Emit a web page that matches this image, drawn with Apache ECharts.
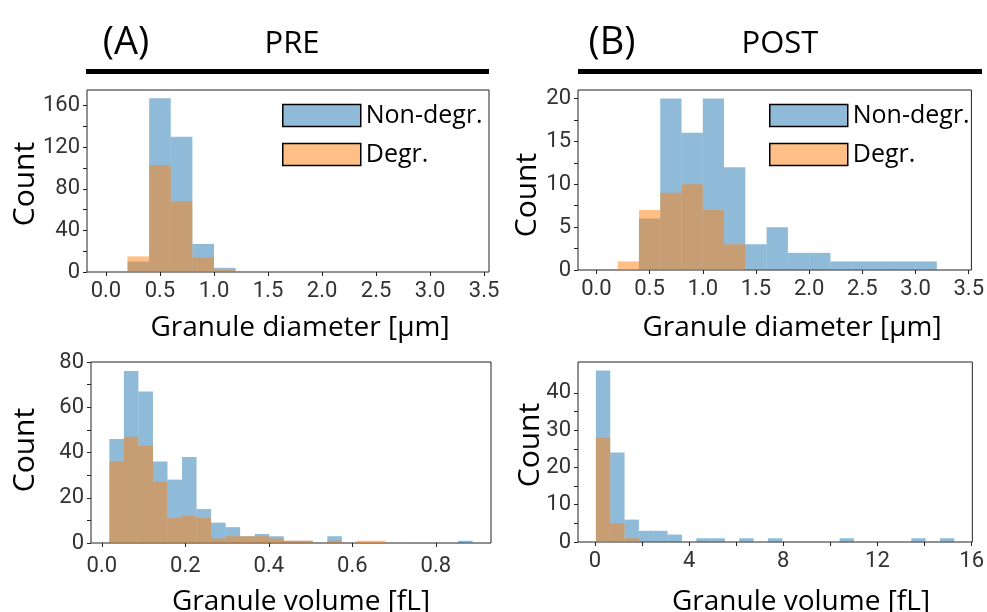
<!DOCTYPE html>
<html>
<head>
<meta charset="utf-8">
<script src="https://cdn.jsdelivr.net/npm/echarts@6/dist/echarts.min.js"></script>
<style>
  html, body { margin: 0; padding: 0; background: #fff; }
  #main { width: 987px; height: 612px; }
</style>
</head>
<body>
<div id="main"></div>
<script>
// histogram bin edges (diameter, um) - same bins pre and post
var diamEdges = [0.2, 0.4, 0.6, 0.8, 1.0, 1.2, 1.4, 1.6, 1.8, 2.0, 2.2, 2.4, 2.6, 2.8, 3.0, 3.2];
var preDiamNon = [10, 167, 130, 27, 4, 0, 0, 0, 0, 0, 0, 0, 0, 0, 0];
var preDiamDeg = [15, 103, 68, 14, 2, 0, 0, 0, 0, 0, 0, 0, 0, 0, 0];
var postDiamNon = [0, 6, 20, 16, 20, 12, 3, 5, 2, 2, 1, 1, 1, 1, 1];
var postDiamDeg = [1, 7, 9, 10, 7, 3, 0, 0, 0, 0, 0, 0, 0, 0, 0];

// volume histograms, 25 bins each (start, width in fL)
var preVolStart = 0.018, preVolWidth = 0.0348;
var preVolNon = [46, 76, 67, 36, 28, 38, 15, 9, 7, 3, 4, 3, 1, 1, 0, 3, 0, 0, 0, 0, 0, 0, 0, 0, 1];
var preVolDeg = [36, 47, 43, 27, 11, 12, 11, 2, 3, 3, 3, 2, 1, 1, 0, 1, 0, 1, 1, 0, 0, 0, 0, 0, 0];
var postVolStart = 0.04, postVolWidth = 0.609;
var postVolNon = [46, 24, 6, 3, 3, 2, 0, 1, 1, 0, 1, 0, 1, 0, 0, 0, 0, 1, 0, 0, 0, 0, 1, 0, 1];
var postVolDeg = [28, 5, 1, 0, 0, 0, 0, 0, 0, 0, 0, 0, 0, 0, 0, 0, 0, 0, 0, 0, 0, 0, 0, 0, 0];

// tick labels
var diamTicks = [0, 0.5, 1.0, 1.5, 2.0, 2.5, 3.0, 3.5];
var preVolTicks = [0, 0.2, 0.4, 0.6, 0.8];
var postVolTicks = [0, 4, 8, 12, 16];
var postVolMinor = [0, 2, 4, 6, 8, 10, 12, 14, 16];
var preDiamCount = [0, 40, 80, 120, 160];
var preDiamMinor = [0, 20, 40, 60, 80, 100, 120, 140, 160];
var postDiamCount = [0, 5, 10, 15, 20];
var postDiamMinor = [0, 2.5, 5, 7.5, 10, 12.5, 15, 17.5, 20];
var preVolCount = [0, 20, 40, 60, 80];
var preVolMinor = [0, 10, 20, 30, 40, 50, 60, 70, 80];
var postVolCount = [0, 10, 20, 30, 40];
var postVolMinor2 = [0, 5, 10, 15, 20, 25, 30, 35, 40];

var BLUE = 'rgba(31,119,180,0.5)';
var ORANGE = 'rgba(255,127,14,0.5)';
var tickFont = 'Roboto, "Liberation Sans", sans-serif';
var textFont = '"Open Sans", Lato, sans-serif';

function makeEdges(start, width, n) {
    var e = [];
    for (var i = 0; i <= n; i++) e.push(start + i * width);
    return e;
}

function toBins(edges, counts) {
    var out = [];
    for (var i = 0; i < counts.length; i++) {
        if (counts[i] > 0) out.push([edges[i], edges[i + 1], counts[i]]);
    }
    return out;
}

function renderBar(params, api) {
    var top = api.coord([api.value(0), api.value(2)]);
    var bot = api.coord([api.value(1), 0]);
    return {
        type: 'rect',
        shape: {x: top[0], y: top[1], width: bot[0] - top[0], height: bot[1] - top[1]},
        style: api.style()
    };
}

function hist(name, idx, color, data) {
    return {
        name: name,
        type: 'custom',
        xAxisIndex: idx,
        yAxisIndex: idx,
        renderItem: renderBar,
        itemStyle: {color: color},
        encode: {x: [0, 1], y: 2},
        clip: true,
        silent: true,
        data: data
    };
}

function xAx(idx, min, max, labels, minor, dec, margin) {
    return {
        type: 'value', gridIndex: idx, min: min, max: max,
        axisLine: {show: false, onZero: false},
        splitLine: {show: false},
        axisTick: {show: true, length: 4, customValues: minor, lineStyle: {color: '#222'}},
        axisLabel: {
            customValues: labels, margin: margin, fontSize: 22, fontFamily: tickFont, color: '#333',
            formatter: function (v) { return v.toFixed(dec); }
        }
    };
}

function yAx(idx, max, labels, minor) {
    return {
        type: 'value', gridIndex: idx, min: 0, max: max,
        axisLine: {show: false, onZero: false},
        splitLine: {show: false},
        axisTick: {show: true, length: 4, customValues: minor, lineStyle: {color: '#222'}},
        axisLabel: {
            customValues: labels, margin: 7, fontSize: 22, fontFamily: tickFont, color: '#333'
        }
    };
}

function legendAt(left) {
    return {
        left: left, top: 103, orient: 'vertical', padding: 0,
        itemWidth: 78, itemHeight: 22, itemGap: 14, icon: 'rect',
        selectedMode: false,
        itemStyle: {borderColor: '#000', borderWidth: 1.5},
        textStyle: {fontSize: 25, fontFamily: textFont, color: '#000'},
        data: ['Non-degr.', 'Degr.']
    };
}

function label(txt, x, y, size, rot) {
    return {
        type: 'text', x: x, y: y, rotation: rot || 0, silent: true,
        style: {text: txt, fontSize: size, fontFamily: textFont, fill: '#000', align: 'center', verticalAlign: 'middle'}
    };
}

var diamBinsPreN = toBins(diamEdges, preDiamNon);
var diamBinsPreD = toBins(diamEdges, preDiamDeg);
var diamBinsPostN = toBins(diamEdges, postDiamNon);
var diamBinsPostD = toBins(diamEdges, postDiamDeg);
var preVolEdges = makeEdges(preVolStart, preVolWidth, preVolNon.length);
var postVolEdges = makeEdges(postVolStart, postVolWidth, postVolNon.length);

var myChart = echarts.init(document.getElementById('main'), null, {renderer: 'canvas'});

var option = {
    animation: false,
    backgroundColor: '#fff',
    grid: [
        {left: 87, top: 90, width: 402, height: 182, show: true, borderColor: '#222', borderWidth: 1},
        {left: 578, top: 90, width: 399, height: 180, show: true, borderColor: '#222', borderWidth: 1},
        {left: 91, top: 362, width: 400, height: 181, show: true, borderColor: '#222', borderWidth: 1},
        {left: 578, top: 362, width: 400, height: 180, show: true, borderColor: '#222', borderWidth: 1}
    ],
    xAxis: [
        xAx(0, -0.175, 3.545, diamTicks, diamTicks, 1, 8),
        xAx(1, -0.173, 3.525, diamTicks, diamTicks, 1, 8),
        xAx(2, -0.026, 0.932, preVolTicks, preVolTicks, 1, 12),
        xAx(3, -0.72, 16.03, postVolTicks, postVolMinor, 0, 8)
    ],
    yAxis: [
        yAx(0, 175, preDiamCount, preDiamMinor),
        yAx(1, 21, postDiamCount, postDiamMinor),
        yAx(2, 80, preVolCount, preVolMinor),
        yAx(3, 48.3, postVolCount, postVolMinor2)
    ],
    legend: [legendAt(282), legendAt(769)],
    series: [
        hist('Non-degr.', 0, BLUE, diamBinsPreN),
        hist('Degr.', 0, ORANGE, diamBinsPreD),
        hist('Non-degr.', 1, BLUE, diamBinsPostN),
        hist('Degr.', 1, ORANGE, diamBinsPostD),
        hist('Non-degr.', 2, BLUE, toBins(preVolEdges, preVolNon)),
        hist('Degr.', 2, ORANGE, toBins(preVolEdges, preVolDeg)),
        hist('Non-degr.', 3, BLUE, toBins(postVolEdges, postVolNon)),
        hist('Degr.', 3, ORANGE, toBins(postVolEdges, postVolDeg))
    ],
    graphic: [
        label('(A)', 126, 43, 38),
        label('PRE', 292, 44, 31),
        label('(B)', 612, 43, 38),
        label('POST', 780, 44, 31),
        {type: 'rect', silent: true, shape: {x: 86, y: 69, width: 403, height: 5}, style: {fill: '#000'}},
        {type: 'rect', silent: true, shape: {x: 578, y: 69, width: 404, height: 5}, style: {fill: '#000'}},
        label('Count', 25, 184, 30, Math.PI / 2),
        label('Count', 25, 450, 30, Math.PI / 2),
        label('Count', 527, 195, 30, Math.PI / 2),
        label('Count', 530, 445, 30, Math.PI / 2),
        label('Granule diameter [µm]', 300, 328, 28),
        label('Granule diameter [µm]', 792, 328, 28),
        label('Granule volume [fL]', 301, 602, 28),
        label('Granule volume [fL]', 801, 602, 28)
    ]
};

myChart.setOption(option);
</script>
</body>
</html>
